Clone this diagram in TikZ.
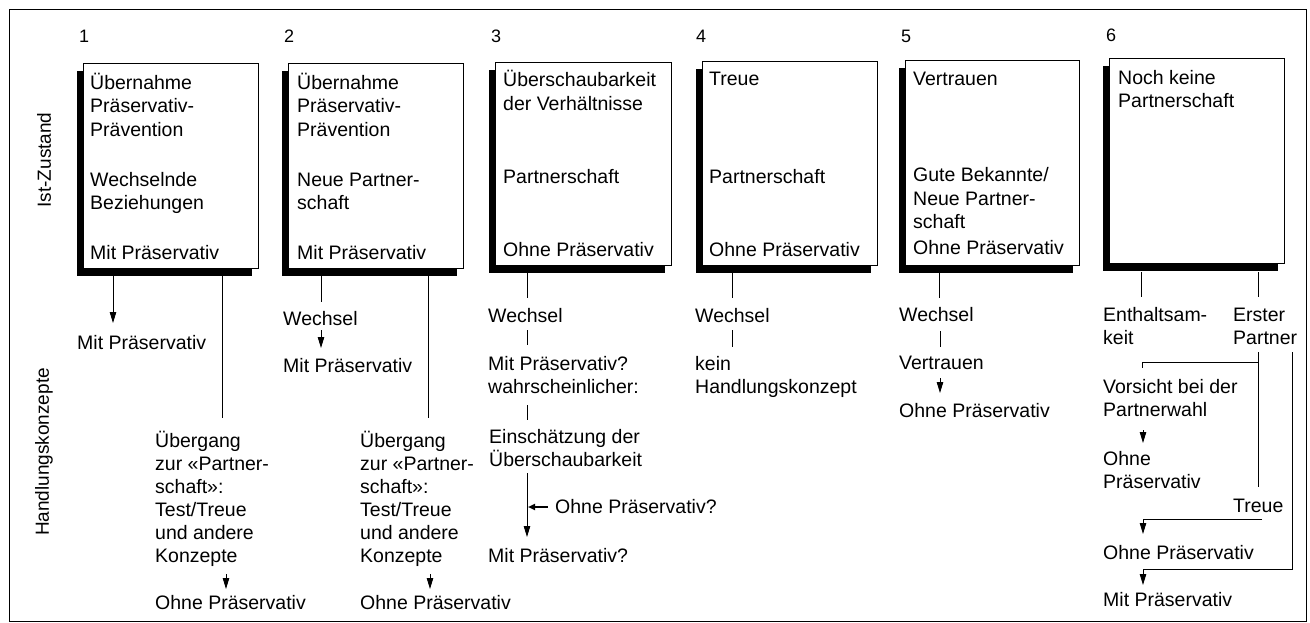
\documentclass[tikz,border=0pt]{standalone}
\usepackage{fontspec}
\setmainfont{Liberation Sans}
\usetikzlibrary{arrows.meta,shadows}
\begin{document}
\begin{tikzpicture}[x=1pt,y=-1pt,
  txt/.style={anchor=base west, inner sep=0pt, font=\fontsize{19.5}{23.5}\selectfont},
  num/.style={anchor=base west, inner sep=0pt, font=\fontsize{18}{21}\selectfont},
  side/.style={inner sep=0pt, rotate=90, font=\fontsize{19}{23}\selectfont},
  box/.style={draw, line width=0.8pt, fill=white, anchor=north west, inner sep=0pt,
    minimum width=175pt, general shadow={fill=black, shadow xshift=-6.5pt, shadow yshift=-8pt}},
  ln/.style={line width=0.9pt},
  arr/.style={line width=0.9pt, -{Triangle[length=11pt,width=6.5pt]}},
]
\useasboundingbox (0,0) rectangle (1310,623);
\fill[white] (0,0) rectangle (1310,623);
\draw[line width=1pt] (9,10) rectangle (1306,621);

% side labels
\node[side] (ist) at (44,160) {Ist-Zustand};
\node[side] (hk) at (44,452) {Handlungskonzepte};

% column numbers
\node[num] (n1) at (79,43) {1};
\node[num] (n2) at (284,43) {2};
\node[num] (n3) at (491,43) {3};
\node[num] (n4) at (696,43) {4};
\node[num] (n5) at (901,43) {5};
\node[num] (n6) at (1106,42) {6};

% boxes
\node[box, minimum height=205pt] (b1) at (83,63) {};
\node[box, minimum height=205pt] (b2) at (288,63) {};
\node[box, minimum width=176pt, minimum height=203pt] (b3) at (495,62) {};
\node[box, minimum height=204pt] (b4) at (702,61) {};
\node[box, minimum width=174pt, minimum height=205pt] (b5) at (905,60) {};
\node[box, minimum height=205pt] (b6) at (1109,58) {};

% box 1
\node[txt] (t1a) at (90,90) {Übernahme};
\node[txt] (t1b) at (90,113) {Präservativ-};
\node[txt] (t1c) at (90,137) {Prävention};
\node[txt] (t1d) at (90,186) {Wechselnde};
\node[txt] (t1e) at (90,210) {Beziehungen};
\node[txt] (t1f) at (90,259) {Mit Präservativ};
% box 2
\node[txt] (t2a) at (297,90) {Übernahme};
\node[txt] (t2b) at (297,113) {Präservativ-};
\node[txt] (t2c) at (297,137) {Prävention};
\node[txt] (t2d) at (297,186) {Neue Partner-};
\node[txt] (t2e) at (297,210) {schaft};
\node[txt] (t2f) at (297,259) {Mit Präservativ};
% box 3
\node[txt] (t3a) at (503,87) {Überschaubarkeit};
\node[txt] (t3b) at (503,111) {der Verhältnisse};
\node[txt] (t3c) at (503,183) {Partnerschaft};
\node[txt] (t3d) at (503,256) {Ohne Präservativ};
% box 4
\node[txt] (t4a) at (709,86) {Treue};
\node[txt] (t4b) at (709,183) {Partnerschaft};
\node[txt] (t4c) at (709,256) {Ohne Präservativ};
% box 5
\node[txt] (t5a) at (913,86) {Vertrauen};
\node[txt] (t5b) at (913,182) {Gute Bekannte/};
\node[txt] (t5c) at (913,206) {Neue Partner-};
\node[txt] (t5d) at (913,229) {schaft};
\node[txt] (t5e) at (913,254) {Ohne Präservativ};
% box 6
\node[txt] (t6a) at (1118,85) {Noch keine};
\node[txt] (t6b) at (1118,108) {Partnerschaft};

% ---- column 1 lower
\node[txt] (m1) at (77,349) {Mit Präservativ};
\node[txt] (u1a) at (155,447) {Übergang};
\node[txt] (u1b) at (155,470) {zur «Partner-};
\node[txt] (u1c) at (155,493) {schaft»:};
\node[txt] (u1d) at (155,516) {Test/Treue};
\node[txt] (u1e) at (155,539) {und andere};
\node[txt] (u1f) at (155,562) {Konzepte};
\node[txt] (o1) at (155,609) {Ohne Präservativ};
\coordinate (c1a) at (113,276);
\coordinate (c1b) at (113,323);
\coordinate (c1c) at (222,276);
\coordinate (c1d) at (222,418);
\coordinate (c1e) at (226,574);
\coordinate (c1f) at (226,589);
\draw[arr] (c1a) -- (c1b);
\draw[ln] (c1c) -- (c1d);
\draw[arr] (c1e) -- (c1f);

% ---- column 2 lower
\node[txt] (w2) at (283,325) {Wechsel};
\node[txt] (m2) at (283,372) {Mit Präservativ};
\node[txt] (u2a) at (360,447) {Übergang};
\node[txt] (u2b) at (360,470) {zur «Partner-};
\node[txt] (u2c) at (360,493) {schaft»:};
\node[txt] (u2d) at (360,516) {Test/Treue};
\node[txt] (u2e) at (360,539) {und andere};
\node[txt] (u2f) at (360,562) {Konzepte};
\node[txt] (o2) at (360,609) {Ohne Präservativ};
\coordinate (c2a) at (321,276);
\coordinate (c2b) at (321,302);
\coordinate (c2c) at (321,330);
\coordinate (c2d) at (321,348);
\coordinate (c2e) at (428,276);
\coordinate (c2f) at (428,418);
\coordinate (c2g) at (430,574);
\coordinate (c2h) at (430,589);
\draw[ln] (c2a) -- (c2b);
\draw[arr] (c2c) -- (c2d);
\draw[ln] (c2e) -- (c2f);
\draw[arr] (c2g) -- (c2h);

% ---- column 3 lower
\node[txt] (w3) at (488,322) {Wechsel};
\node[txt] (m3a) at (488,370) {Mit Präservativ?};
\node[txt] (m3b) at (488,393) {wahrscheinlicher:};
\node[txt] (e3a) at (489,443) {Einschätzung der};
\node[txt] (e3b) at (489,466) {Überschaubarkeit};
\node[txt] (o3) at (555,513) {Ohne Präservativ?};
\node[txt] (m3c) at (488,562) {Mit Präservativ?};
\coordinate (c3a) at (527,273);
\coordinate (c3b) at (527,298);
\coordinate (c3c) at (527,330);
\coordinate (c3d) at (527,345);
\coordinate (c3e) at (527,405);
\coordinate (c3f) at (527,420);
\coordinate (c3g) at (527,473);
\coordinate (c3h) at (527,537);
\coordinate (c3i) at (528,507);
\coordinate (c3j) at (548,507);
\draw[ln] (c3a) -- (c3b);
\draw[ln] (c3c) -- (c3d);
\draw[ln] (c3e) -- (c3f);
\draw[arr] (c3g) -- (c3h);
\draw[line width=2.2pt, {Triangle[length=7pt,width=6pt]}-] (c3i) -- (c3j);

% ---- column 4 lower
\node[txt] (w4) at (695,322) {Wechsel};
\node[txt] (k4a) at (695,370) {kein};
\node[txt] (k4b) at (695,393) {Handlungskonzept};
\coordinate (c4a) at (732,273);
\coordinate (c4b) at (732,298);
\coordinate (c4c) at (732,330);
\coordinate (c4d) at (732,347);
\draw[ln] (c4a) -- (c4b);
\draw[ln] (c4c) -- (c4d);

% ---- column 5 lower
\node[txt] (w5) at (899,321) {Wechsel};
\node[txt] (v5) at (899,369) {Vertrauen};
\node[txt] (o5) at (899,417) {Ohne Präservativ};
\coordinate (c5a) at (939,273);
\coordinate (c5b) at (939,298);
\coordinate (c5c) at (940,331);
\coordinate (c5d) at (940,347);
\coordinate (c5e) at (940,378);
\coordinate (c5f) at (940,393);
\draw[ln] (c5a) -- (c5b);
\draw[ln] (c5c) -- (c5d);
\draw[arr] (c5e) -- (c5f);

% ---- column 6 lower
\node[txt] (e6a) at (1103,321) {Enthaltsam-};
\node[txt] (e6b) at (1103,344) {keit};
\node[txt] (p6a) at (1233,321) {Erster};
\node[txt] (p6b) at (1233,344) {Partner};
\node[txt] (v6a) at (1103,393) {Vorsicht bei der};
\node[txt] (v6b) at (1103,416) {Partnerwahl};
\node[txt] (o6a) at (1103,465) {Ohne};
\node[txt] (o6b) at (1103,488) {Präservativ};
\node[txt] (tr6) at (1233,512) {Treue};
\node[txt] (o6c) at (1103,559) {Ohne Präservativ};
\node[txt] (m6) at (1103,606) {Mit Präservativ};
\coordinate (c6a) at (1141,272);
\coordinate (c6b) at (1141,297);
\coordinate (c6c) at (1258,272);
\coordinate (c6d) at (1258,297);
\coordinate (c6e) at (1258,352);
\coordinate (c6f) at (1258,487);
\coordinate (c6g) at (1258,362);
\coordinate (c6h) at (1142,362);
\coordinate (c6i) at (1142,368);
\coordinate (c6j) at (1143,430);
\coordinate (c6k) at (1143,443);
\coordinate (c6l) at (1262,519);
\coordinate (c6m) at (1143,519);
\coordinate (c6n) at (1143,534);
\coordinate (c6o) at (1292,352);
\coordinate (c6p) at (1292,569);
\coordinate (c6q) at (1143,569);
\coordinate (c6r) at (1143,585);
\draw[ln] (c6a) -- (c6b);
\draw[ln] (c6c) -- (c6d);
\draw[ln] (c6e) -- (c6f);
\draw[ln] (c6g) -- (c6h) -- (c6i);
\draw[arr] (c6j) -- (c6k);
\draw[arr] (c6l) -- (c6m) -- (c6n);
\draw[arr] (c6o) -- (c6p) -- (c6q) -- (c6r);
\end{tikzpicture}
\end{document}
